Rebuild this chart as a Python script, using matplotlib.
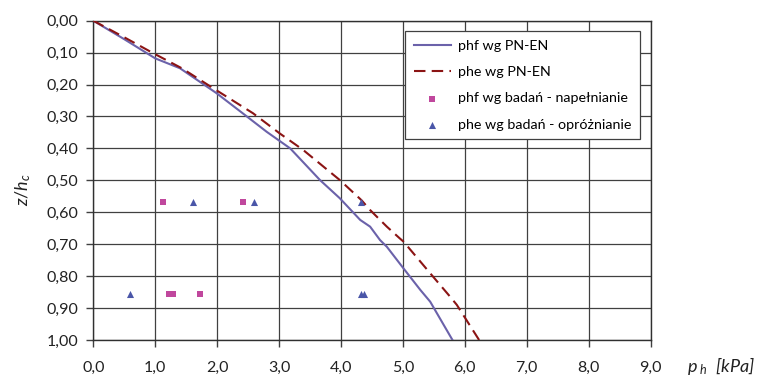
import matplotlib
matplotlib.use("Agg")
import matplotlib.pyplot as plt
from matplotlib.ticker import FuncFormatter, MultipleLocator

plt.rcParams['font.family'] = ['Lato', 'DejaVu Sans']
plt.rcParams['mathtext.fontset'] = 'custom'
plt.rcParams['mathtext.it'] = 'Lato:italic'
plt.rcParams['mathtext.rm'] = 'Lato'

# --- data ---
phf_p = [0.0, 0.50, 1.00, 1.40, 1.99, 2.48, 2.80, 2.99, 3.18, 3.66, 3.98, 4.31, 4.47, 4.63, 4.74, 5.01, 5.28, 5.44, 5.80]
phf_z = [0.0, 0.058, 0.118, 0.149, 0.227, 0.300, 0.348, 0.374, 0.400, 0.499, 0.556, 0.624, 0.645, 0.687, 0.708, 0.776, 0.843, 0.880, 1.000]

phe_p = [0.0, 0.50, 0.97, 1.43, 1.94, 2.58, 3.01, 3.39, 3.98, 4.33, 4.47, 4.74, 4.95, 5.01, 5.44, 5.76, 5.87, 6.23]
phe_z = [0.0, 0.052, 0.102, 0.149, 0.212, 0.290, 0.353, 0.405, 0.499, 0.562, 0.593, 0.645, 0.682, 0.692, 0.791, 0.864, 0.890, 1.000]

fill_p = [1.13, 2.42, 1.23, 1.29, 1.72]
fill_z = [0.567, 0.567, 0.856, 0.856, 0.856]

empty_p = [1.61, 2.60, 4.32, 0.60, 4.32, 4.37]
empty_z = [0.567, 0.567, 0.567, 0.856, 0.856, 0.856]

labels = ["phf wg PN-EN", "phe wg PN-EN", "phf wg badań - napełnianie", "phe wg badań - opróżnianie"]
x_ticks = [0, 1, 2, 3, 4, 5, 6, 7, 8, 9]

fig = plt.figure(figsize=(7.61, 3.79), dpi=100)
ax = fig.add_axes([0.1226, 0.1029, 0.855 - 0.1226, 0.9454 - 0.1029])

ax.plot(phf_p, phf_z, color='#6B62AA', lw=1.5, label=labels[0], zorder=3)
ax.plot(phe_p, phe_z, color='#8B1414', lw=1.5, dashes=(5.5, 3), label=labels[1], zorder=3)
ax.scatter(fill_p, fill_z, marker='s', s=22, color='#C0479D', label=labels[2], zorder=4, linewidths=0)
ax.scatter(empty_p, empty_z, marker='^', s=26, color='#4A56A8', label=labels[3], zorder=4, linewidths=0)

ax.set_xlim(0, 9)
ax.set_ylim(1.0, 0.0)
ax.set_xticks(x_ticks)
ax.yaxis.set_major_locator(MultipleLocator(0.1))
ax.xaxis.set_major_formatter(FuncFormatter(lambda v, p: f"{v:.1f}".replace('.', ',')))
ax.yaxis.set_major_formatter(FuncFormatter(lambda v, p: f"{v:.2f}".replace('.', ',')))
ax.grid(True, color='#404040', lw=0.9)
ax.set_axisbelow(True)
for s in ax.spines.values():
    s.set_color('#303030')
    s.set_linewidth(1.0)
ax.tick_params(axis='both', direction='out', length=5, width=1, color='#404040',
               labelsize=11.5, labelcolor='#222222', pad=6)
ax.tick_params(axis='x', pad=10)

fig.text(0.030, 0.50, r"$z/h_c$", rotation=90, fontsize=13, color='#222222', ha='center', va='center')
fig.text(0.948, 0.035, r"$p_{\ h}$  [kPa]", fontsize=13, color='#222222', ha='center', va='center',
         fontstyle='italic')

leg = ax.legend(loc='upper right', bbox_to_anchor=(0.994, 0.99), fontsize=10.3, frameon=True,
                fancybox=False, edgecolor='#404040', framealpha=1, borderpad=0.6,
                labelspacing=1.0, handlelength=2.6, handletextpad=0.5, scatterpoints=1)
leg.get_frame().set_linewidth(0.9)

fig.savefig("out.png", dpi=100)
